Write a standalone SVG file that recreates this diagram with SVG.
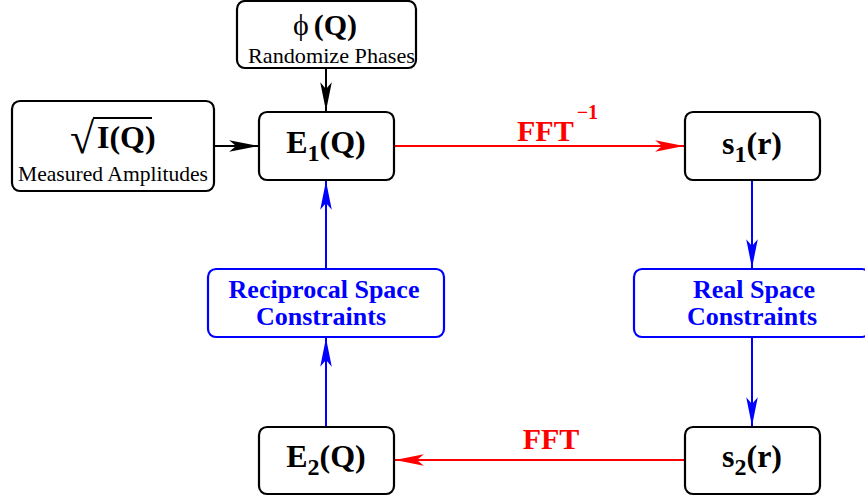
<svg xmlns="http://www.w3.org/2000/svg" width="865" height="496" viewBox="0 0 865 496">
<defs>
<style>
.box{fill:#fff;stroke:#000;stroke-width:2.2}
.bbox{fill:#fff;stroke:#0000ff;stroke-width:2.2}
.big{font-family:"Liberation Serif","Times New Roman",serif;font-weight:bold;font-size:32px;fill:#000}
.small{font-family:"Liberation Serif","Times New Roman",serif;font-size:21px;fill:#000}
.blue{font-family:"Liberation Serif","Times New Roman",serif;font-weight:bold;font-size:26px;fill:#0000ff}
.red{font-family:"Liberation Serif","Times New Roman",serif;font-weight:bold;font-size:30px;fill:#ff0000}
.k{stroke:#000;stroke-width:2;fill:none}
.r{stroke:#ff0000;stroke-width:2;fill:none}
.b{stroke:#0000ff;stroke-width:2;fill:none}
</style>
<marker id="ak" markerUnits="userSpaceOnUse" markerWidth="30" markerHeight="14" refX="25" refY="5" orient="auto" viewBox="0 0 26 10"><path d="M25,5 L0,0 L6,5 L0,10 z" fill="#000"/></marker>
<marker id="ar" markerUnits="userSpaceOnUse" markerWidth="30" markerHeight="14" refX="25" refY="5" orient="auto" viewBox="0 0 26 10"><path d="M25,5 L0,0 L6,5 L0,10 z" fill="#ff0000"/></marker>
<marker id="ab" markerUnits="userSpaceOnUse" markerWidth="30" markerHeight="14" refX="25" refY="5" orient="auto" viewBox="0 0 26 10"><path d="M25,5 L0,0 L6,5 L0,10 z" fill="#0000ff"/></marker>
</defs>
<rect width="865" height="496" fill="#fff"/>

<g id="connectors">
<line class="k" x1="326" y1="68" x2="326" y2="111" marker-end="url(#ak)"/>
<line class="k" x1="214" y1="146" x2="258" y2="146" marker-end="url(#ak)"/>
<line class="r" x1="394" y1="146" x2="684" y2="146" marker-end="url(#ar)"/>
<line class="b" x1="752" y1="180" x2="752" y2="268" marker-end="url(#ab)"/>
<line class="b" x1="752" y1="337" x2="752" y2="426" marker-end="url(#ab)"/>
<line class="r" x1="685" y1="460" x2="395" y2="460" marker-end="url(#ar)"/>
<line class="b" x1="326" y1="427" x2="326" y2="338" marker-end="url(#ab)"/>
<line class="b" x1="326" y1="269" x2="326" y2="181" marker-end="url(#ab)"/>
<text class="red" x="517" y="141">FFT<tspan dx="3" dy="-22" font-size="20">−1</tspan></text>
<text class="red" x="551" y="449" text-anchor="middle">FFT</text>
</g>

<g id="phase">
<rect class="box" x="237" y="1" width="179" height="67" rx="8"/>
<text x="293" y="35" font-family="'Liberation Serif','DejaVu Serif',serif" font-size="30">ϕ<tspan dx="5" font-weight="bold">(Q)</tspan></text>
<text class="small" x="248" y="63" font-size="22" textLength="167" lengthAdjust="spacingAndGlyphs">Randomize Phases</text>
</g>

<g id="amplitudes">
<rect class="box" x="12" y="101" width="202" height="90" rx="8"/>
<text x="70" y="153" font-family="'Liberation Serif','DejaVu Serif',serif" font-size="44">√</text>
<line x1="93" y1="118" x2="152" y2="118" stroke="#000" stroke-width="2"/>
<text class="big" x="97" y="148" font-size="30">I(Q)</text>
<text class="small" x="18" y="181" textLength="190" lengthAdjust="spacingAndGlyphs">Measured Amplitudes</text>
</g>

<g id="E1">
<rect class="box" x="259" y="112" width="135" height="68" rx="8"/>
<text class="big" x="326" y="153" text-anchor="middle">E<tspan font-size="24" dy="8">1</tspan><tspan dy="-8">(Q)</tspan></text>
</g>

<g id="s1">
<rect class="box" x="685" y="112" width="135" height="68" rx="8"/>
<text class="big" x="752" y="154" text-anchor="middle">s<tspan font-size="24" dy="8">1</tspan><tspan dy="-8">(r)</tspan></text>
</g>

<g id="reciprocal">
<rect class="bbox" x="208" y="269" width="236" height="68" rx="8"/>
<text class="blue" x="324" y="298" text-anchor="middle">Reciprocal Space</text>
<text class="blue" x="321" y="325" text-anchor="middle">Constraints</text>
</g>

<g id="real">
<rect class="bbox" x="634" y="269" width="236" height="68" rx="8"/>
<text class="blue" x="754" y="298" text-anchor="middle">Real Space</text>
<text class="blue" x="752" y="325" text-anchor="middle">Constraints</text>
</g>

<g id="E2">
<rect class="box" x="259" y="427" width="135" height="67" rx="8"/>
<text class="big" x="326" y="467" text-anchor="middle">E<tspan font-size="24" dy="8">2</tspan><tspan dy="-8">(Q)</tspan></text>
</g>

<g id="s2">
<rect class="box" x="685" y="427" width="135" height="67" rx="8"/>
<text class="big" x="752" y="467" text-anchor="middle">s<tspan font-size="24" dy="8">2</tspan><tspan dy="-8">(r)</tspan></text>
</g>
</svg>
